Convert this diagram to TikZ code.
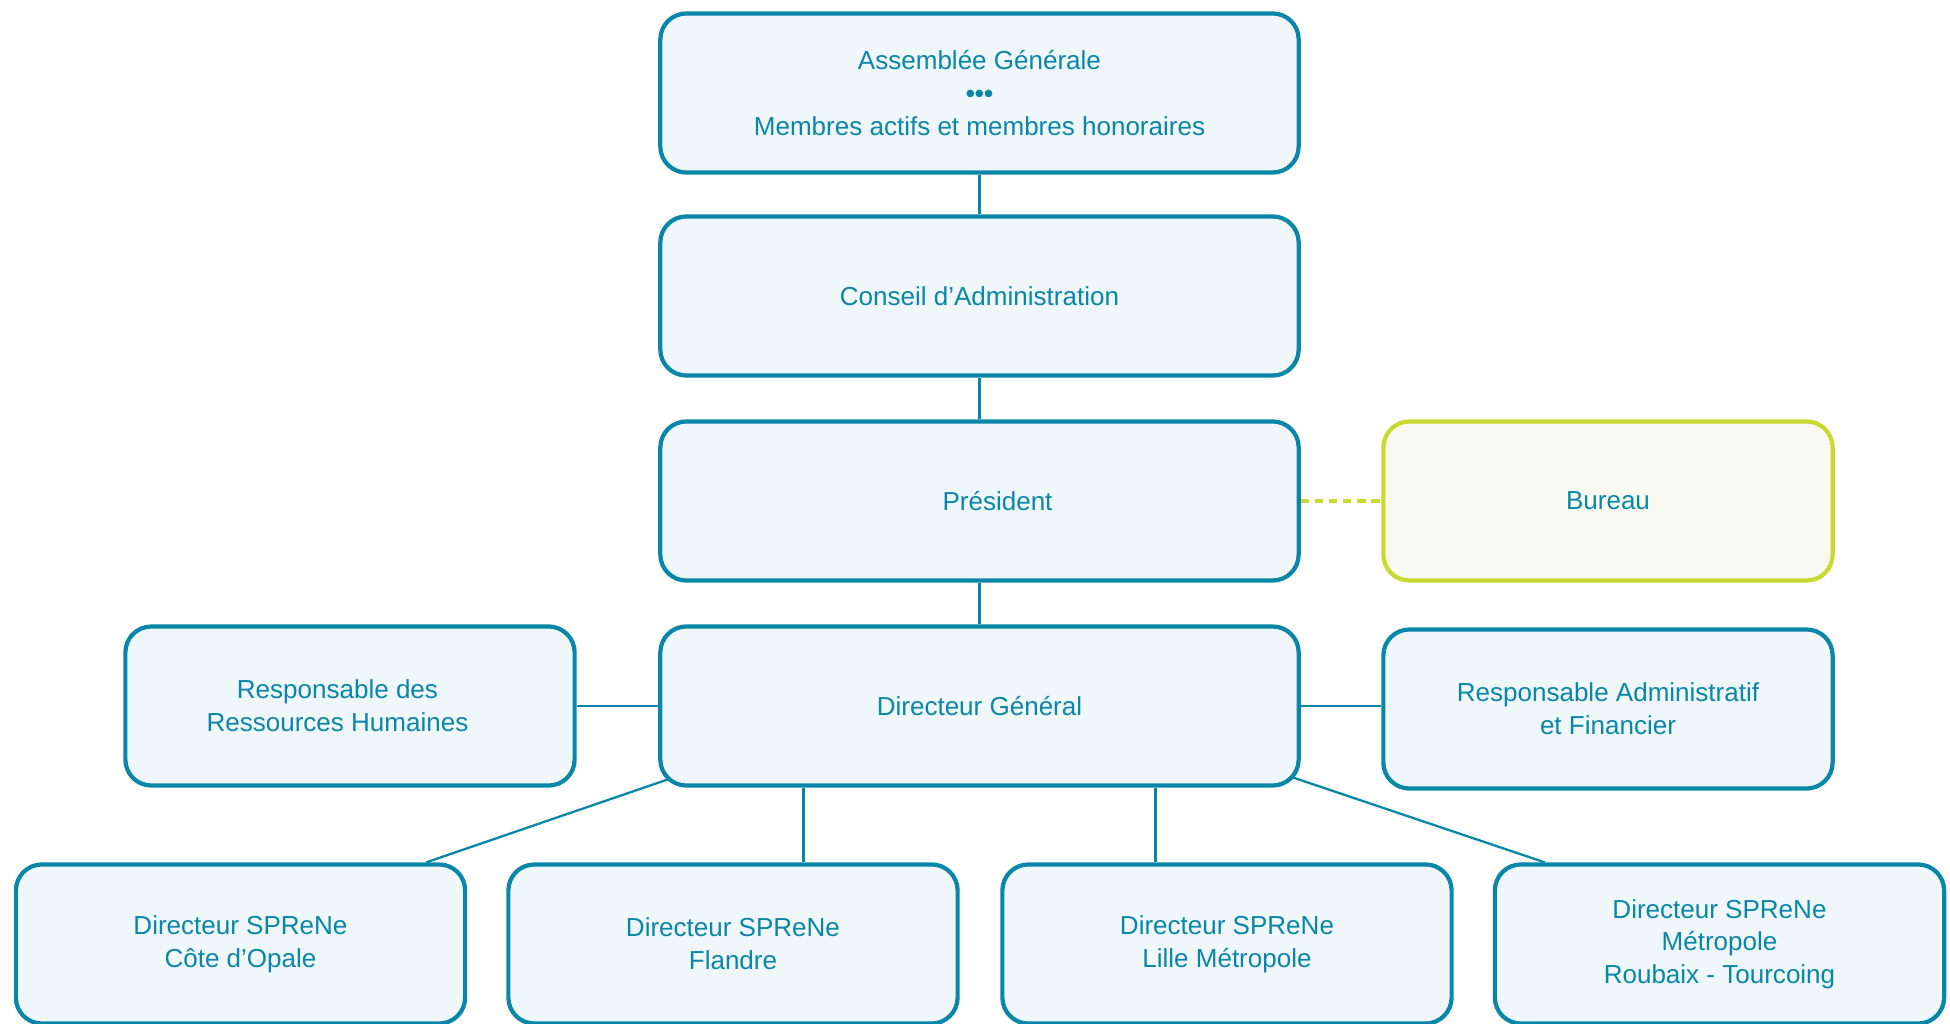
\documentclass[tikz,border=0pt]{standalone}
\usepackage{fontspec}
\setmainfont{Liberation Sans}
\usetikzlibrary{calc,backgrounds}
\definecolor{orgblue}{HTML}{0A86A8}
\definecolor{orgfill}{HTML}{EFF7FA}
\definecolor{orggreen}{HTML}{C8D92F}
\definecolor{orggreenfill}{HTML}{F8FAF1}
\tikzset{
	orgbox/.style={draw=orgblue, fill=orgfill, line width=1.2pt, rounded corners=0.26cm,
		text=orgblue, align=center, minimum height=1.59cm, inner sep=0pt,
		font=\fontsize{7.4}{9.3}\selectfont},
	widebox/.style={orgbox, minimum width=6.38cm},
	sidebox/.style={orgbox, minimum width=4.49cm},
	bureaubox/.style={sidebox, draw=orggreen, fill=orggreenfill},
	link/.style={draw=orgblue, line width=0.65pt},
	greenlink/.style={draw=orggreen, line width=0.9pt, dash pattern=on 2.4pt off 1.6pt},
}

\begin{document}
\begin{tikzpicture}[x=0.01cm, y=-0.01cm]
			%%%%% START %%%%%
			\useasboundingbox (0,0) rectangle (1950,1024);
			
			% central column
			\node[widebox] (ag) at (979.5, 93) {Assemblée Générale\\{\bfseries •••}\\Membres actifs et membres honoraires};
			\node[widebox] (ca) at (979.5, 296) {Conseil d’Administration};
			\node[widebox] (pres) at (979.5, 501) {\hspace*{0.36cm}Président};
			\node[widebox] (dg) at (979.5, 706) {Directeur Général};
			
			% side boxes
			\node[bureaubox] (bureau) at (1608, 501) {Bureau};
			\node[sidebox] (rh) at (350, 706) {Responsable des\kern0.25cm\\Ressources Humaines\kern0.25cm};
			\node[sidebox] (raf) at (1608, 709) {Responsable Administratif\\et Financier};
			
			% SPReNe directors
			\node[sidebox] (dcote) at (240.5, 944) {Directeur SPReNe\\Côte d’Opale};
			\node[sidebox] (dflandre) at (733, 944) {Directeur SPReNe\\Flandre};
			\node[sidebox] (dlille) at (1227, 944) {Directeur SPReNe\\Lille Métropole};
			\node[sidebox] (droubaix) at (1719.5, 944) {Directeur SPReNe\\Métropole\\Roubaix - Tourcoing};
			
			\begin{scope}[on background layer]
				\draw[link] (ag) -- (ca);
				\draw[link] (ca) -- (pres);
				\draw[link] (pres) -- (dg);
				\draw[link] (rh.east) -- (dg.west);
				\draw[link] (dg.east) -- (dg.east -| raf.west);
				
				\coordinate (tapl) at ($(dg.south west)+(41,-19)$);
				\coordinate (tapr) at ($(dg.south east)+(-40,-21)$);
				\coordinate (tapa) at ($(dg.south)+(-176,0)$);
				\coordinate (tapb) at ($(dg.south)+(176,0)$);
				\draw[link] (tapl) -- ($(dcote.north east)+(-41,0)$);
				\draw[link] (tapa) -- (tapa |- dflandre.north);
				\draw[link] (tapb) -- (tapb |- dlille.north);
				\draw[link] (tapr) -- ($(droubaix.north west)+(52,0)$);
			\end{scope}
			
			\draw[greenlink] (pres.east) -- (bureau.west);
			
			%%%%% END %%%%%
		\end{tikzpicture}
\end{document}
